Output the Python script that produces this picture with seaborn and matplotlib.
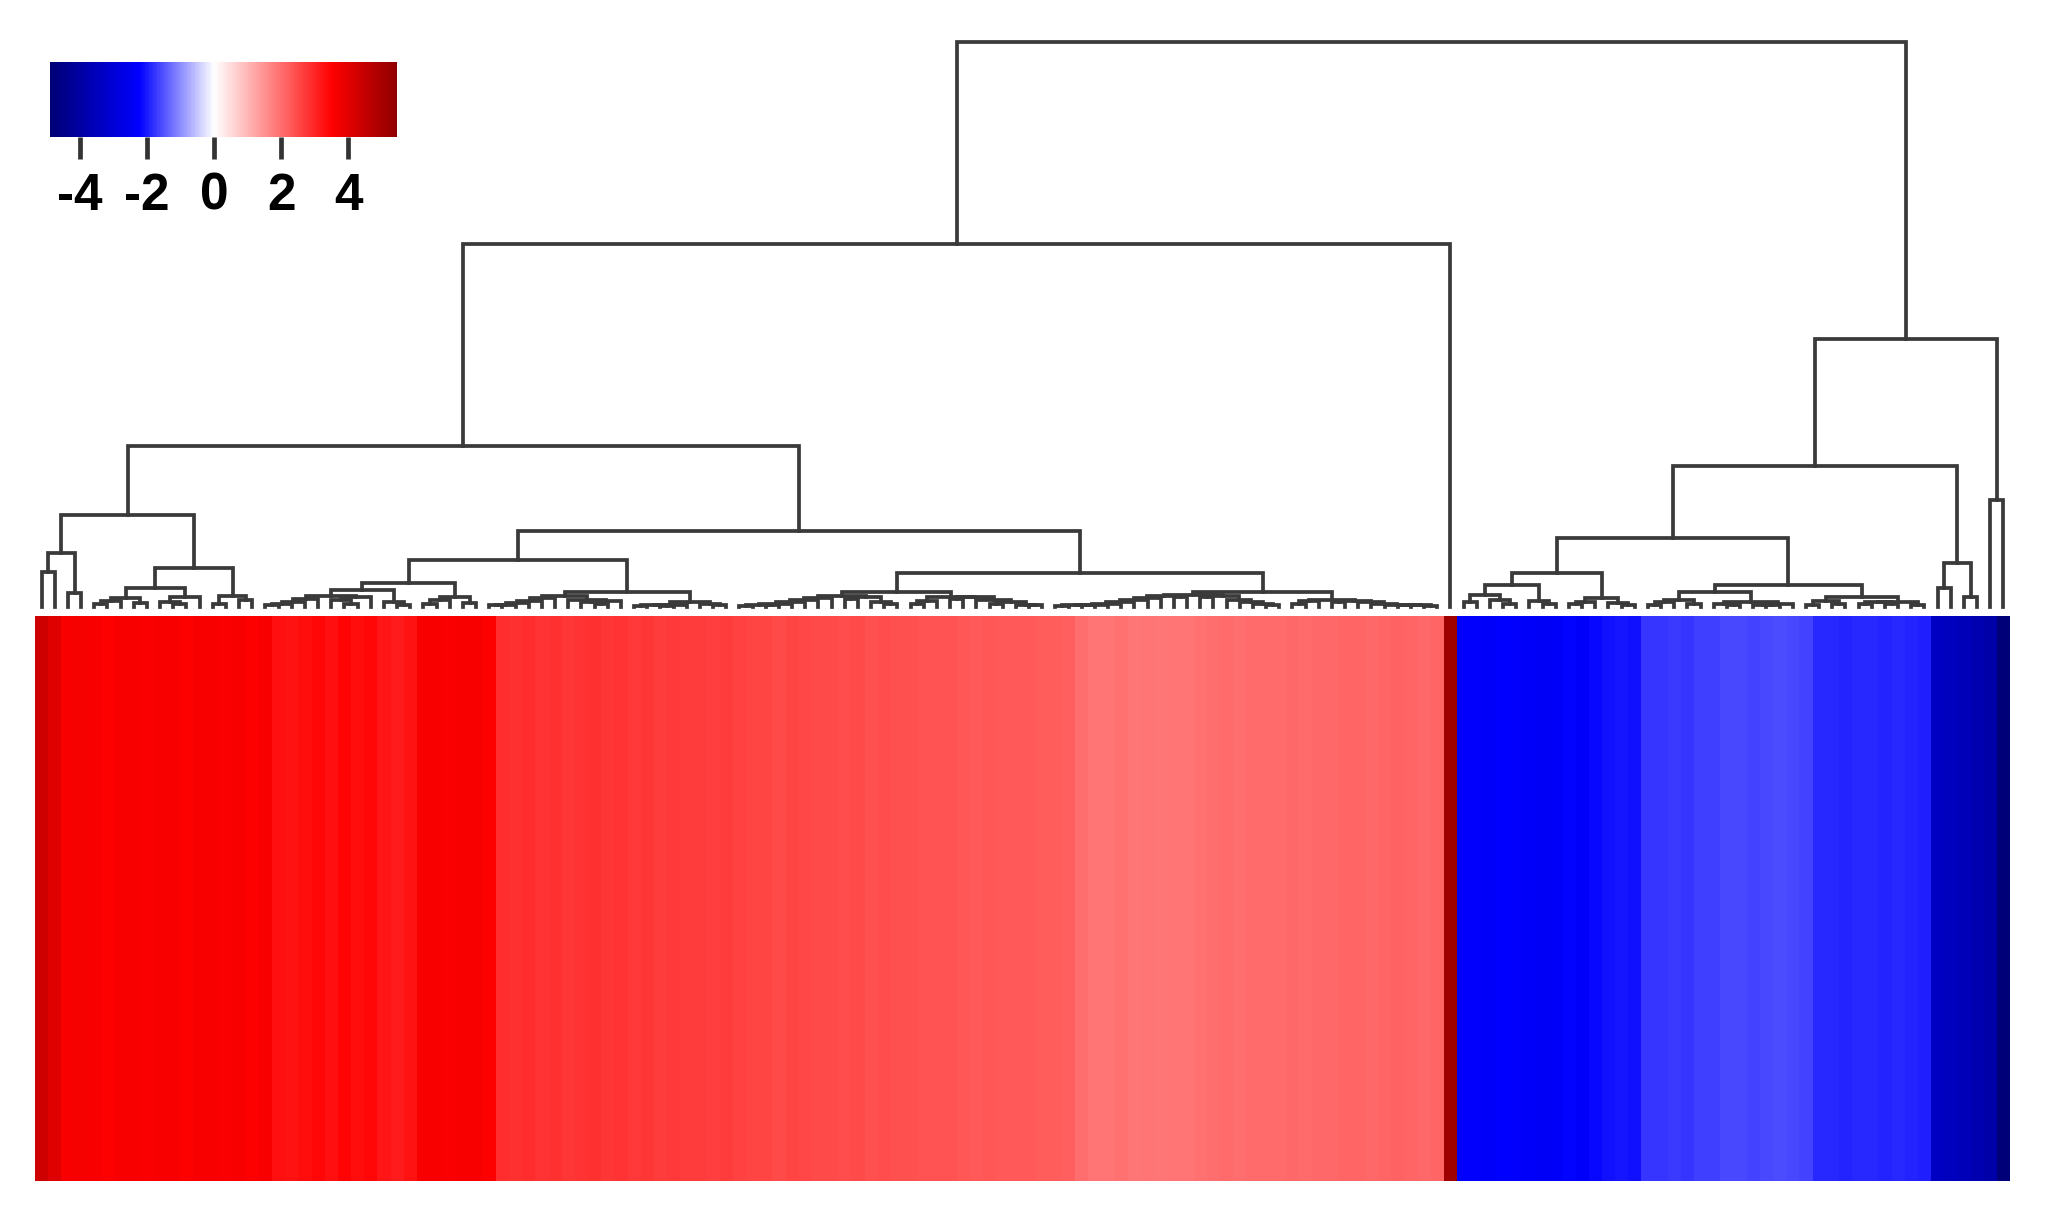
import numpy as np
import pandas as pd
import matplotlib
matplotlib.use("Agg")
import matplotlib.pyplot as plt
from matplotlib.colors import LinearSegmentedColormap
import seaborn as sns

plt.rcParams["font.family"] = ["Liberation Sans", "DejaVu Sans"]
plt.rcParams["axes.unicode_minus"] = False

# one value per column, in the order shown (left to right)
red_values = [4.35, 4.05,
              3.6, 3.65, 3.6, 3.55, 3.6, 3.6, 3.58, 3.62, 3.6, 3.55, 3.6, 3.6, 3.58, 3.6, 3.55, 3.6,
              3.3, 3.25, 3.35,
              3.4, 3.3, 3.45, 3.35, 3.4,
              3.2, 3.15, 3.25,
              3.6, 3.62, 3.58, 3.6, 3.6, 3.55,
              2.9, 2.85, 2.9, 2.8, 2.85, 2.75, 2.8, 2.85, 2.75, 2.8, 2.72, 2.75,
              2.7, 2.72, 2.68, 2.7, 2.65, 2.7, 2.62,
              2.58, 2.55, 2.5, 2.55, 2.52, 2.48, 2.5, 2.45, 2.48, 2.42, 2.45, 2.42,
              2.4, 2.38, 2.35, 2.36, 2.32, 2.3, 2.33, 2.3, 2.28, 2.3, 2.26, 2.25, 2.22,
              1.98, 1.92, 1.9, 1.95, 1.88, 1.9, 1.86, 1.9, 1.92, 1.95,
              2.02, 2.05, 2.0, 2.04, 2.06, 2.03, 2.08, 2.05, 2.1,
              2.1, 2.12, 2.14, 2.1, 2.12, 2.15, 2.12, 2.1, 2.13]
outlier_values = [5.15]
blue_values = [-2.3, -2.28, -2.32, -2.26, -2.3, -2.34, -2.4, -2.36,
               -2.2, -2.35, -2.15, -2.1, -2.05, -2.1,
               -1.78, -1.75, -1.72, -1.76, -1.7, -1.68,
               -1.62, -1.6, -1.64, -1.6, -1.58, -1.62, -1.65,
               -1.88, -1.9, -1.92, -1.88, -1.9, -1.93, -1.9, -1.92, -1.95,
               -3.4, -3.45, -3.6, -3.75, -3.9,
               -4.8]

# dendrogram: merge height between each pair of neighbouring columns
merge_heights = [6.2, 9.6, 2.5, 16.3, 0.5, 1.0, 1.6, 0.7, 3.4, 0.9,
                 0.5, 1.8, 6.9, 0.5, 1.9, 1.2, 28.5, 0.3, 0.5, 0.9,
                 1.4, 2.0, 1.2, 0.6, 1.7, 3.0, 0.8, 0.4, 4.2, 0.5,
                 1.2, 1.8, 0.7, 8.3, 0.3, 0.4, 0.7, 1.0, 1.6, 1.9,
                 1.3, 0.8, 0.5, 1.1, 2.7, 0.2, 0.3, 0.2, 0.4, 0.9,
                 0.6, 0.3, 13.5, 0.2, 0.3, 0.3, 0.5, 0.8, 1.2, 1.6,
                 2.0, 1.5, 1.8, 0.9, 0.6, 2.7, 0.6, 1.0, 1.8, 1.4,
                 1.7, 1.2, 0.5, 0.9, 0.4, 0.3, 6.0, 0.2, 0.3, 0.3,
                 0.4, 0.6, 0.9, 1.3, 1.6, 2.0, 1.8, 2.1, 1.7, 1.9,
                 1.2, 0.8, 0.5, 0.3, 2.7, 0.6, 1.0, 1.2, 0.8, 1.1,
                 0.9, 0.5, 0.4, 0.3, 0.3, 0.2, 64.2, 100.0, 0.8, 2.1,
                 1.2, 0.6, 3.9, 1.0, 0.5, 6.0, 0.5, 0.9, 1.6, 0.7,
                 0.4, 12.2, 0.4, 0.9, 1.3, 0.6, 2.7, 0.5, 0.3, 0.8,
                 0.4, 0.3, 0.6, 3.9, 0.4, 1.0, 0.6, 1.8, 0.5, 0.8,
                 0.6, 0.9, 0.4, 25.0, 3.4, 7.8, 1.8, 47.4, 18.9]

cbar_ticks = [-4, -2, 0, 2, 4]
vmin, vmax = -4.9, 5.46

values = red_values + outlier_values + blue_values
df = pd.DataFrame([values])

nodes = [(-4.9, "#000075"), (-2.24, "#0000ff"), (0.0, "#ffffff"), (3.52, "#ff0000"), (5.46, "#8f0000")]
cmap = LinearSegmentedColormap.from_list(
    "bwr_custom", [((v - vmin) / (vmax - vmin), c) for v, c in nodes])

W, H = 2046, 1216
fig = plt.figure(figsize=(W / 100, H / 100), dpi=100)

ax_hm = fig.add_axes([35 / W, 1 - 1181 / H, 1975 / W, 565 / H])
ax_den = fig.add_axes([35 / W, 1 - 607 / H, 1975 / W, 565 / H])
cax = fig.add_axes([50 / W, 1 - 137 / H, 347 / W, 75 / H])

sns.heatmap(df, ax=ax_hm, cmap=cmap, vmin=vmin, vmax=vmax,
            xticklabels=False, yticklabels=False,
            cbar_ax=cax, cbar_kws={"orientation": "horizontal", "ticks": cbar_ticks})

cax.tick_params(axis="x", length=16, width=3.4, color="#333333", pad=9, labelsize=37)
for lbl in cax.get_xticklabels():
    lbl.set_fontweight("bold")
cbar = ax_hm.collections[0].colorbar
cbar.outline.set_visible(False)


def draw_node(lo, hi):
    # columns lo..hi (inclusive); split where the neighbour merge is highest
    if lo == hi:
        return lo + 0.5, 0.0
    k = lo + int(np.argmax(merge_heights[lo:hi]))
    h = merge_heights[k]
    xl, hl = draw_node(lo, k)
    xr, hr = draw_node(k + 1, hi)
    ax_den.plot([xl, xl, xr, xr], [hl, h, h, hr], color="#3a3a3a", lw=2.7,
                clip_on=False, solid_joinstyle="miter")
    return (xl + xr) / 2, h


draw_node(0, len(values) - 1)
ax_den.set_xlim(0, len(values))
ax_den.set_ylim(0, max(merge_heights))
ax_den.axis("off")

plt.savefig("out.png", dpi=100)
